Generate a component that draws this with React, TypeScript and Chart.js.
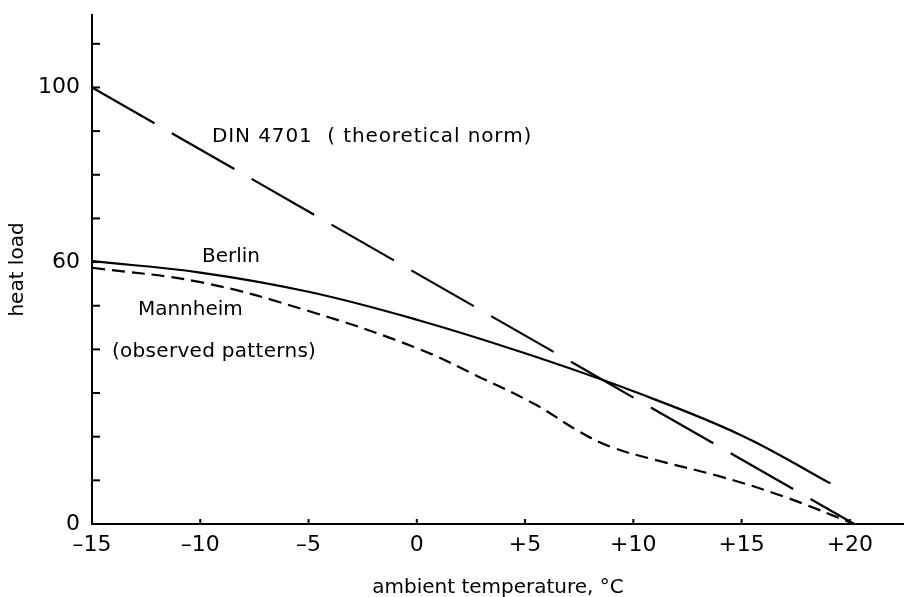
import React, { useEffect, useRef } from 'react';
import { Chart, registerables } from 'chart.js';

Chart.register(...registerables);

// ---- data ----
const dinX = [-15, 20.2];
const dinY = [100, 0];

const berlinX = [-15, -10, -5, 0, 5, 10, 15, 19.1];
const berlinY = [60.2, 57.6, 53.2, 46.8, 39.1, 30.4, 20.3, 9.3];

const mannheimX = [-15, -10, -5, 0, 3, 5.5, 7.5, 9, 11, 14, 17, 20.2];
const mannheimY = [58.7, 55.4, 48.8, 40.3, 33.4, 27.3, 21.2, 17.6, 14.7, 10.9, 6.2, 0];

const xTickValues = [-15, -10, -5, 0, 5, 10, 15, 20];
const yTickValues = [0, 10, 20, 30, 40, 50, 60, 70, 80, 90, 100, 110];
const yLabelValues = [0, 60, 100];

const noteTexts = ['DIN 4701  ( theoretical norm)', 'Berlin', 'Mannheim', '(observed patterns)'];
const noteX = [-9.46, -9.92, -12.88, -14.08];
const noteY = [88.7, 61.2, 49.0, 39.4];
const noteSpacing = ['0.9px', '0px', '0px', '0.3px'];

const FONT = "'DejaVu Sans', sans-serif";

const toPoints = (xs: number[], ys: number[]) => xs.map((x, i) => ({ x, y: ys[i] }));

const fmtX = (v: number) => (v > 0 ? '+' + v : v < 0 ? '\u2013' + Math.abs(v) : '0');

const overlayPlugin = {
  id: 'overlay',
  afterDraw(chart: any) {
    const ctx = chart.ctx;
    const xs = chart.scales.x;
    const ys = chart.scales.y;
    const area = chart.chartArea;
    ctx.save();
    ctx.strokeStyle = '#000';
    ctx.lineWidth = 2;
    // inward tick marks
    xs.ticks.forEach((t: any) => {
      const px = xs.getPixelForValue(t.value);
      ctx.beginPath();
      ctx.moveTo(px, area.bottom);
      ctx.lineTo(px, area.bottom - 5);
      ctx.stroke();
    });
    ys.ticks.forEach((t: any) => {
      const py = ys.getPixelForValue(t.value);
      ctx.beginPath();
      ctx.moveTo(area.left, py);
      ctx.lineTo(area.left + 8, py);
      ctx.stroke();
    });
    // annotations
    ctx.fillStyle = '#000';
    ctx.font = `20px ${FONT}`;
    ctx.textAlign = 'left';
    ctx.textBaseline = 'middle';
    noteTexts.forEach((txt, i) => {
      (ctx as any).letterSpacing = noteSpacing[i];
      ctx.fillText(txt, xs.getPixelForValue(noteX[i]), ys.getPixelForValue(noteY[i]));
    });
    ctx.restore();
  },
};

export default function App() {
  const ref = useRef<HTMLCanvasElement | null>(null);

  useEffect(() => {
    document.body.style.margin = '0';
    const canvas = ref.current;
    if (!canvas) return;
    const chart = new Chart(canvas, {
      type: 'line',
      data: {
        datasets: [
          {
            label: 'DIN 4701',
            data: toPoints(dinX, dinY),
            borderColor: '#000',
            borderWidth: 2.2,
            borderDash: [72, 20],
            pointRadius: 0,
            tension: 0,
          },
          {
            label: 'Berlin',
            data: toPoints(berlinX, berlinY),
            borderColor: '#000',
            borderWidth: 2.2,
            pointRadius: 0,
            tension: 0.4,
          },
          {
            label: 'Mannheim',
            data: toPoints(mannheimX, mannheimY),
            borderColor: '#000',
            borderWidth: 2.2,
            borderDash: [13, 7],
            pointRadius: 0,
            tension: 0.4,
          },
        ],
      },
      options: {
        animation: false,
        responsive: false,
        maintainAspectRatio: false,
        layout: { padding: { top: 15, left: 0, right: 0, bottom: 0 } },
        plugins: { legend: { display: false }, tooltip: { enabled: false } },
        scales: {
          x: {
            type: 'linear',
            min: -15,
            max: 22.5,
            afterBuildTicks: (s: any) => {
              s.ticks = xTickValues.map((v) => ({ value: v }));
            },
            afterFit: (s: any) => {
              s.height = 73;
              s.paddingLeft = 0;
              s.paddingRight = 0;
            },
            grid: { display: false, drawTicks: false },
            border: { display: true, color: '#000', width: 2 },
            ticks: {
              autoSkip: false,
              maxRotation: 0,
              padding: 8,
              color: '#000',
              font: { family: FONT, size: 22 },
              callback: (v: any) => fmtX(Number(v)),
            },
            title: {
              display: true,
              text: 'ambient temperature, °C',
              color: '#000',
              font: { family: FONT, size: 20, lineHeight: 0.9 },
              padding: 0,
            },
          },
          y: {
            type: 'linear',
            min: 0,
            max: 116.6,
            afterBuildTicks: (s: any) => {
              s.ticks = yTickValues.map((v) => ({ value: v }));
            },
            afterFit: (s: any) => {
              s.width = 92;
              s.paddingTop = 0;
              s.paddingBottom = 0;
            },
            grid: { display: false, drawTicks: false },
            border: { display: true, color: '#000', width: 2 },
            ticks: {
              autoSkip: false,
              padding: 12,
              color: '#000',
              font: { family: FONT, size: 22 },
              callback: (v: any) => (yLabelValues.includes(Number(v)) ? String(v) : ''),
            },
            title: {
              display: true,
              text: 'heat load',
              color: '#000',
              font: { family: FONT, size: 20, lineHeight: 1.2 },
              padding: 6,
            },
          },
        },
      },
      plugins: [overlayPlugin],
    } as any);
    return () => chart.destroy();
  }, []);

  return (
    <div style={{ position: 'fixed', left: 0, top: 0, width: 904, height: 597, background: '#fff' }}>
      <canvas ref={ref} width={904} height={597} style={{ width: 904, height: 597, display: 'block' }} />
    </div>
  );
}
